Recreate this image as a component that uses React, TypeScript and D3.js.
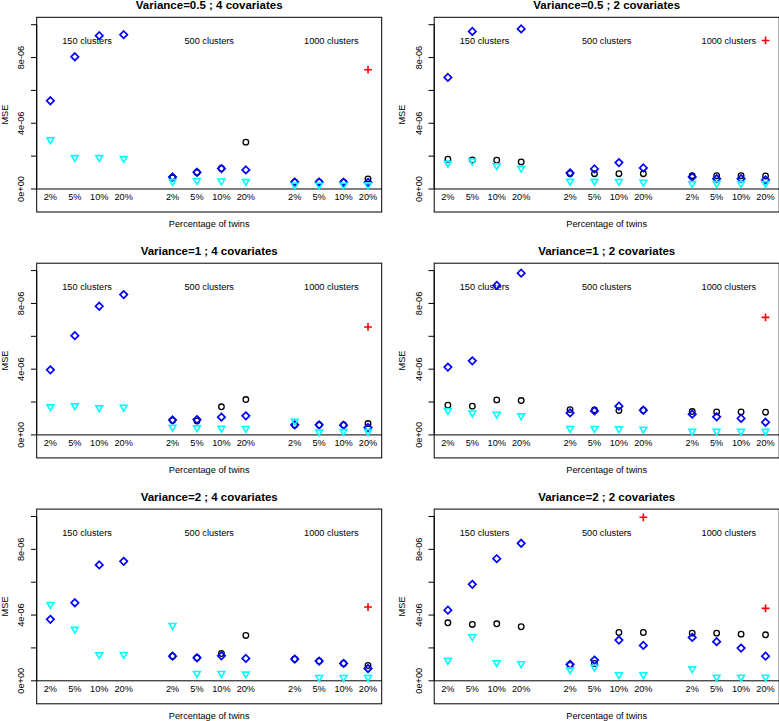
import React from "react";
import * as d3 from "d3";

// ---------- data (MSE values in units of 1e-6) ----------
const UNIT = 1e-6;
const xPositions = [1, 2, 3, 4, 6, 7, 8, 9, 11, 12, 13, 14];
const pctLabels = ["2%", "5%", "10%", "20%", "2%", "5%", "10%", "20%", "2%", "5%", "10%", "20%"];
const clusterLabels = ["150 clusters", "500 clusters", "1000 clusters"];
const clusterLabelX = [2.5, 7.5, 12.5];
const clusterLabelY = 9;
const pctLabelY = -0.5;
const yTicks = [0, 2, 4, 6, 8, 10];
const yTickLabels: Record<number, string> = { 0: "0e+00", 4: "4e-06", 8: "8e-06" };
const panelTitles = [
  "Variance=0.5 ; 4 covariates",
  "Variance=0.5 ; 2 covariates",
  "Variance=1 ; 4 covariates",
  "Variance=1 ; 2 covariates",
  "Variance=2 ; 4 covariates",
  "Variance=2 ; 2 covariates",
];
const xAxisTitle = "Percentage of twins";
const yAxisTitle = "MSE";

const N = null;
// Panel 1: Variance=0.5 ; 4 covariates
const black1 = [N, N, N, N, 0.68, 1.0, 1.25, 2.85, 0.42, 0.42, 0.42, 0.61];
const blue1 = [5.37, 8.05, 9.33, 9.39, 0.73, 1.02, 1.24, 1.16, 0.43, 0.43, 0.41, 0.4];
const cyan1 = [3.0, 1.91, 1.91, 1.85, 0.45, 0.51, 0.49, 0.45, 0.24, 0.24, 0.24, 0.24];
const red1 = [N, N, N, N, N, N, N, N, N, N, N, 7.26];
// Panel 2: Variance=0.5 ; 2 covariates
const black2 = [1.81, 1.77, 1.75, 1.65, 0.93, 0.93, 0.93, 0.93, 0.81, 0.81, 0.81, 0.79];
const blue2 = [6.79, 9.59, N, 9.74, 0.98, 1.22, 1.61, 1.28, 0.73, 0.63, 0.63, 0.55];
const cyan2 = [1.57, 1.71, 1.42, 1.26, 0.47, 0.47, 0.45, 0.41, 0.33, 0.33, 0.33, 0.33];
const red2 = [N, N, N, N, N, N, N, N, N, N, N, 9.04];
// Panel 3: Variance=1 ; 4 covariates
const black3 = [N, N, N, N, 0.87, 0.85, 1.71, 2.15, 0.6, 0.6, 0.6, 0.69];
const blue3 = [3.96, 6.04, 7.83, 8.54, 0.91, 0.93, 1.08, 1.16, 0.61, 0.61, 0.59, 0.45];
const cyan3 = [1.71, 1.77, 1.65, 1.69, 0.47, 0.43, 0.41, 0.39, 0.83, 0.18, 0.2, 0.2];
const red3 = [N, N, N, N, N, N, N, N, N, N, N, 6.57];
// Panel 4: Variance=1 ; 2 covariates
const black4 = [1.81, 1.75, 2.13, 2.09, 1.54, 1.52, 1.48, 1.5, 1.42, 1.4, 1.4, 1.38];
const blue4 = [4.13, 4.51, 9.1, 9.84, 1.34, 1.46, 1.75, 1.5, 1.26, 1.1, 1.0, 0.77];
const cyan4 = [1.48, 1.34, 1.26, 1.16, 0.39, 0.39, 0.37, 0.35, 0.22, 0.22, 0.22, 0.22];
const red4 = [N, N, N, N, N, N, N, N, N, N, N, 7.15];
// Panel 5: Variance=2 ; 4 covariates
const black5 = [N, N, N, N, 1.5, 1.4, 1.66, 2.76, 1.32, 1.2, 1.06, 0.93];
const blue5 = [3.74, 4.75, 7.05, 7.27, 1.5, 1.4, 1.52, 1.36, 1.32, 1.2, 1.06, 0.75];
const cyan5 = [4.65, 3.13, 1.58, 1.6, 3.37, 0.45, 0.45, 0.41, N, 0.2, 0.2, 0.2];
const red5 = [N, N, N, N, N, N, N, N, N, N, N, 4.49];
// Panel 6: Variance=2 ; 2 covariates
const black6 = [3.53, 3.43, 3.47, 3.29, 0.95, 1.06, 2.94, 2.94, 2.9, 2.9, 2.84, 2.8];
const blue6 = [4.3, 5.87, 7.43, 8.37, 1.0, 1.26, 2.48, 2.15, 2.64, 2.38, 1.99, 1.5];
const cyan6 = [1.24, 2.68, 1.1, 1.04, 0.67, 0.83, 0.37, 0.37, 0.73, 0.22, 0.22, 0.22];
const red6 = [N, N, N, N, N, N, N, 9.95, N, N, N, 4.41];

const panels = [
  { title: panelTitles[0], black: black1, blue: blue1, cyan: cyan1, red: red1 },
  { title: panelTitles[1], black: black2, blue: blue2, cyan: cyan2, red: red2 },
  { title: panelTitles[2], black: black3, blue: blue3, cyan: cyan3, red: red3 },
  { title: panelTitles[3], black: black4, blue: blue4, cyan: cyan4, red: red4 },
  { title: panelTitles[4], black: black5, blue: blue5, cyan: cyan5, red: red5 },
  { title: panelTitles[5], black: black6, blue: blue6, cyan: cyan6, red: red6 },
];

// ---------- layout ----------
const W = 779;
const H = 721;
const colX = [0, 397.5];
const rowY = [0, 245.9, 491.8];
const box = { left: 36.7, right: 381.7, top: 17.3, bottom: 212 };
const FONT = "'Liberation Sans', Arial, Helvetica, sans-serif";

const xScale = d3.scaleLinear().domain([0.44, 14.56]).range([box.left, box.right]);
const yScale = d3.scaleLinear().domain([-1.4 * UNIT, 10.45 * UNIT]).range([box.bottom, box.top]);

const diamond = "M0,-3.7L3.7,0L0,3.7L-3.7,0Z";
const triR = 3.9;
const triangleDown = `M${-0.866 * triR},${-0.5 * triR}L${0.866 * triR},${-0.5 * triR}L0,${triR}Z`;
const plus = "M-3.9,0H3.9M0,-3.9V3.9";

type Series = (number | null)[];

function Marks({ values, kind }: { values: Series; kind: string }) {
  return (
    <g>
      {values.map((v, i) => {
        if (v === null) return null;
        const cx = xScale(xPositions[i]);
        const cy = yScale(v * UNIT);
        const t = `translate(${cx},${cy})`;
        if (kind === "black")
          return <circle key={i} cx={cx} cy={cy} r={2.8} fill="none" stroke="#000" strokeWidth={1.3} />;
        if (kind === "blue")
          return <path key={i} d={diamond} transform={t} fill="none" stroke="#0000FF" strokeWidth={1.7} />;
        if (kind === "cyan")
          return <path key={i} d={triangleDown} transform={t} fill="none" stroke="#00FFFF" strokeWidth={1.6} />;
        return <path key={i} d={plus} transform={t} fill="none" stroke="#FF0000" strokeWidth={1.6} />;
      })}
    </g>
  );
}

function Panel({ p, x, y }: { p: (typeof panels)[number]; x: number; y: number }) {
  const midY = (box.top + box.bottom) / 2;
  return (
    <g transform={`translate(${x},${y})`} fontFamily={FONT}>
      <text
        x={(box.left + box.right) / 2}
        y={box.top - 12.6}
        textAnchor="middle"
        dominantBaseline="central"
        fontWeight="bold"
        fontSize={11.5}
      >
        {p.title}
      </text>
      <rect
        x={box.left}
        y={box.top}
        width={box.right - box.left}
        height={box.bottom - box.top}
        fill="none"
        stroke="#000"
        strokeWidth={1}
      />
      {/* y axis */}
      <line x1={box.left} x2={box.left} y1={yScale(0)} y2={yScale(10 * UNIT)} stroke="#000" />
      {yTicks.map((t) => (
        <line key={t} x1={box.left - 5.7} x2={box.left} y1={yScale(t * UNIT)} y2={yScale(t * UNIT)} stroke="#000" />
      ))}
      {yTicks
        .filter((t) => yTickLabels[t] !== undefined)
        .map((t) => (
          <text
            key={t}
            transform={`translate(${box.left - 15.5},${yScale(t * UNIT)}) rotate(-90)`}
            textAnchor="middle"
            dominantBaseline="central"
            fontSize={9.2}
          >
            {yTickLabels[t]}
          </text>
        ))}
      <text
        transform={`translate(${box.left - 32},${midY}) rotate(-90)`}
        textAnchor="middle"
        dominantBaseline="central"
        fontSize={9.2}
      >
        {yAxisTitle}
      </text>
      {/* zero line */}
      <line x1={box.left} x2={box.right} y1={yScale(0)} y2={yScale(0)} stroke="#000" strokeWidth={1} />
      {/* percentage labels */}
      {pctLabels.map((l, i) => (
        <text
          key={i}
          x={xScale(xPositions[i])}
          y={yScale(pctLabelY * UNIT)}
          textAnchor="middle"
          dominantBaseline="central"
          fontSize={9.2}
        >
          {l}
        </text>
      ))}
      {clusterLabels.map((l, i) => (
        <text
          key={l}
          x={xScale(clusterLabelX[i])}
          y={yScale(clusterLabelY * UNIT)}
          textAnchor="middle"
          dominantBaseline="central"
          fontSize={9.2}
        >
          {l}
        </text>
      ))}
      <text
        x={(box.left + box.right) / 2}
        y={box.bottom + 12}
        textAnchor="middle"
        dominantBaseline="central"
        fontSize={9.2}
      >
        {xAxisTitle}
      </text>
      <Marks values={p.black} kind="black" />
      <Marks values={p.blue} kind="blue" />
      <Marks values={p.cyan} kind="cyan" />
      <Marks values={p.red} kind="red" />
    </g>
  );
}

export default function App() {
  return (
    <div style={{ position: "fixed", left: 0, top: 0, width: W, height: H, background: "#fff" }}>
      <svg width={W} height={H} viewBox={`0 0 ${W} ${H}`} style={{ display: "block" }}>
        <rect width={W} height={H} fill="#fff" />
        {panels.map((p, i) => (
          <Panel key={i} p={p} x={colX[i % 2]} y={rowY[Math.floor(i / 2)]} />
        ))}
      </svg>
    </div>
  );
}
